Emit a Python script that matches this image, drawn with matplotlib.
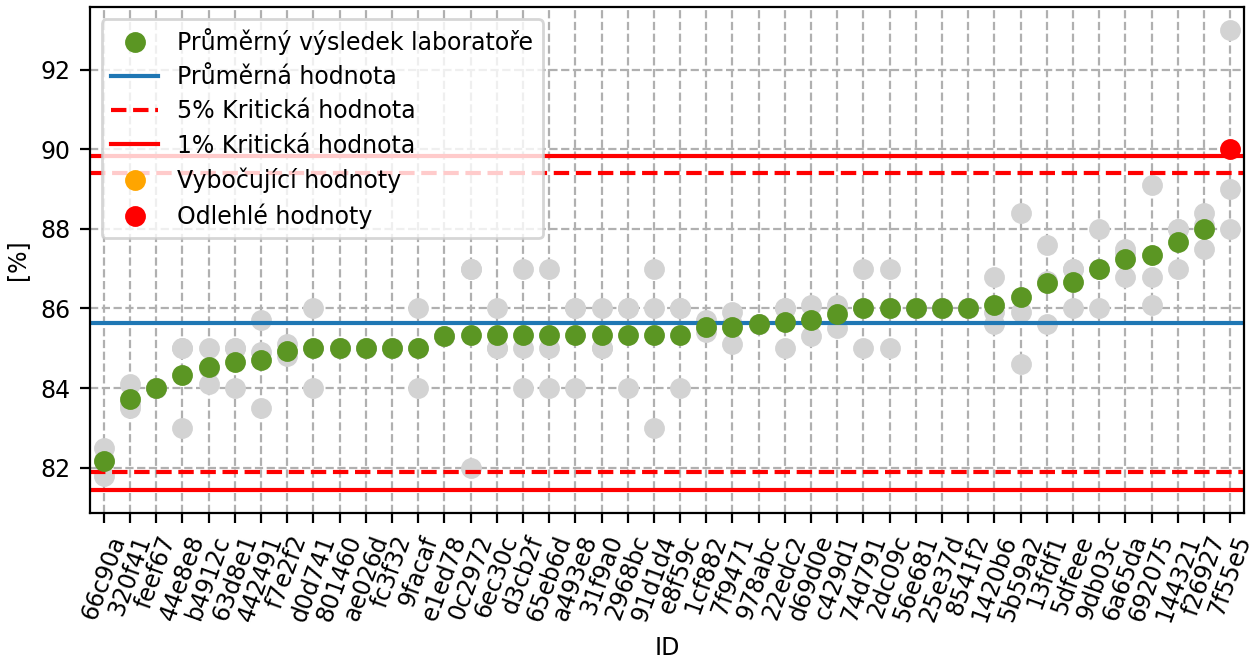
import numpy as np
import matplotlib.pyplot as plt

plt.rcParams['font.size'] = 8.5

lab_ids = ['66c90a', '320f41', 'feef67', '44e8e8', 'b4912c', '63d8e1', '442491', 'f7e2f2',
           'd0d741', '801460', 'ae026d', 'fc3f32', '9facaf', 'e1ed78', '0c2972', '6ec30c',
           'd3cb2f', '65eb6d', 'a493e8', '31f9a0', '2968bc', '91d1d4', 'e8f59c', '1cf882',
           '7f9471', '978abc', '22edc2', 'd69d0e', 'c429d1', '74d791', '2dc09c', '56e681',
           '25e37d', '8541f2', '1420b6', '5b59a2', '13fdf1', '5dfeee', '9db03c', '6a65da',
           '692075', '144321', 'f26927', '7f55e5']

# individual results of each lab (3 replicates)
replicates = [[82.5, 82.2, 81.8], [84.1, 83.6, 83.5], [84.0, 84.0, 84.0], [85.0, 85.0, 83.0],
              [85.0, 84.5, 84.1], [85.0, 85.0, 84.0], [85.7, 84.9, 83.5], [85.1, 84.9, 84.8],
              [86.0, 85.0, 84.0], [85.0, 85.0, 85.0], [85.0, 85.0, 85.0], [85.0, 85.0, 85.0],
              [86.0, 85.0, 84.0], [85.3, 85.3, 85.3], [87.0, 87.0, 82.0], [86.0, 85.0, 85.0],
              [87.0, 85.0, 84.0], [87.0, 85.0, 84.0], [86.0, 86.0, 84.0], [86.0, 85.0, 85.0],
              [86.0, 86.0, 84.0], [87.0, 86.0, 83.0], [86.0, 86.0, 84.0], [85.7, 85.5, 85.4],
              [85.9, 85.6, 85.1], [85.6, 85.6, 85.6], [86.0, 86.0, 85.0], [86.1, 85.7, 85.3],
              [86.1, 86.0, 85.5], [87.0, 86.0, 85.0], [87.0, 86.0, 85.0], [86.0, 86.0, 86.0],
              [86.0, 86.0, 86.0], [86.0, 86.0, 86.0], [86.8, 85.9, 85.6], [88.4, 85.9, 84.6],
              [87.6, 86.7, 85.6], [87.0, 87.0, 86.0], [88.0, 87.0, 86.0], [87.5, 87.4, 86.8],
              [89.1, 86.8, 86.1], [88.0, 88.0, 87.0], [88.4, 88.1, 87.5], [93.0, 89.0, 88.0]]

outlier_ids = ['7f55e5']     # Odlehle
straggler_ids = []           # Vybocujici

grand_mean = 85.64
crit5 = (81.88, 89.41)
crit1 = (81.45, 89.83)

green = '#5b9623'

fig = plt.figure(figsize=(6.29, 3.295), dpi=200)
ax = fig.add_axes([0.0715, 0.2223, 0.9174, 0.7671])

x = np.arange(len(lab_ids))
for i, vals in enumerate(replicates):
    ax.plot([i] * len(vals), vals, 'o', color='lightgrey', ms=6.5, zorder=2)

ax.axhline(grand_mean, color='tab:blue', lw=1.5, label='Průměrná hodnota')
for k, v in enumerate(crit5):
    ax.axhline(v, color='red', ls='--', lw=1.5, label='5% Kritická hodnota' if k else None)
for k, v in enumerate(crit1):
    ax.axhline(v, color='red', ls='-', lw=1.5, label='1% Kritická hodnota' if k else None)

means = np.array([np.mean(v) for v in replicates])
is_out = np.array([l in outlier_ids for l in lab_ids])
is_str = np.array([l in straggler_ids for l in lab_ids])
normal = ~is_out & ~is_str

h_mean, = ax.plot(x[normal], means[normal], 'o', color=green, ms=6.5)
h_str, = ax.plot(x[is_str], means[is_str], 'o', color='orange', ms=6.5)
h_out, = ax.plot(x[is_out], means[is_out], 'o', color='red', ms=6.5)

handles, labels = ax.get_legend_handles_labels()
ax.legend([h_mean] + handles + [h_str, h_out],
          ['Průměrný výsledek laboratoře'] + labels + ['Vybočující hodnoty', 'Odlehlé hodnoty'],
          loc='upper left', labelspacing=0.43)

ax.set_xticks(x)
ax.set_xticklabels(lab_ids, rotation=70)
ax.set_xlim(-0.53, len(lab_ids) - 0.47)
ax.set_xlabel('ID')
ax.set_ylabel('[%]')
ax.grid(True, ls='--')

fig.savefig('out.png', dpi=200)
